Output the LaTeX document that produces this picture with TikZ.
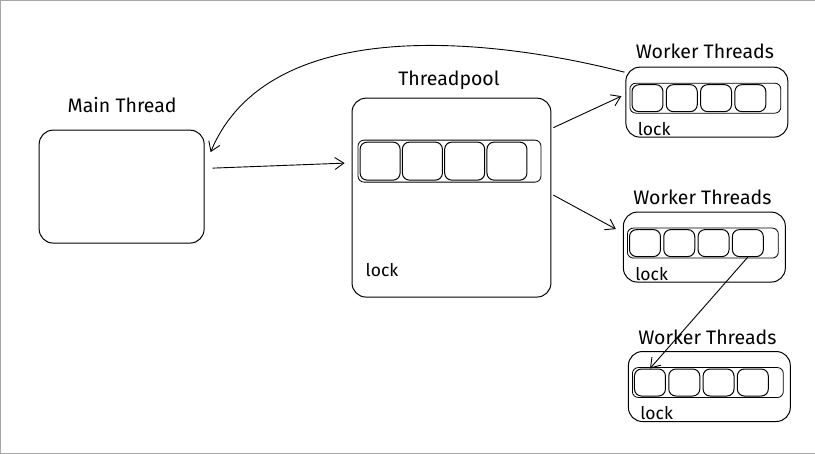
\documentclass[tikz,border=0pt]{standalone}
\usepackage{fontspec}
\setmainfont{Fira Sans}
\usetikzlibrary{arrows.meta}

\begin{document}
\begin{tikzpicture}[x=1pt,y=-1pt,
        box/.style={draw,line width=1pt,rounded corners=14pt,inner sep=0pt},
        bar/.style={draw,line width=0.8pt,rounded corners=6pt,inner sep=0pt},
        cell/.style={draw,line width=1pt,rounded corners=7pt,inner sep=0pt,anchor=west},
        title/.style={font=\fontsize{19.5}{22}\selectfont},
        locktext/.style={font=\fontsize{17.5}{20}\selectfont},
        conn/.style={line width=0.9pt,-{Straight Barb[length=9pt,width=12pt]}}
    ]
    % frame
    \draw[gray!70,fill=white] (0,0) rectangle (815,453);
    \useasboundingbox (0,0) rectangle (815,453);

    \node[box,minimum width=165,minimum height=113] (main) at (121.5,186.5) {};
    \node[title] (maintitle) at (122,105) {Main Thread};

    \node[box,minimum width=199,minimum height=199] (pool) at (451.5,197.5) {};
    \node[title] (pooltitle) at (449,80) {Threadpool};
    \node[bar,minimum width=183,minimum height=42] (poolbar) at (449.5,161) {};
    \foreach \i in {1,...,4}
        \node[cell,minimum width=40,minimum height=38] (pool\i)
            at ([xshift={2+(\i-1)*42.3}]poolbar.west) {};
    \node[locktext] (poollock) at (382,270) {lock};

    % worker threads
    \foreach \w/\cx/\cy/\ty in {1/707/102/51, 2/704.5/247/197, 3/709.5/386.5/337} {
        \node[box,minimum width=162,minimum height=70] (w\w) at (\cx,\cy) {};
        \node[title] (w\w title) at (\cx-2,\ty) {Worker Threads};
        \node[bar,minimum width=151,minimum height=30] (w\w bar)
            at ([xshift=-1.5,yshift=1]\cx,\cy-3) {};
        \foreach \i in {1,...,4}
            \node[cell,minimum width=31,minimum height=27] (w\w c\i)
                at ([xshift={2+(\i-1)*34.3}]w\w bar.west) {};
        \node[locktext,anchor=west] (w\w lock) at ([xshift=9,yshift=-1]w\w.south west |- \cx,\cy+26) {lock};
    }

    % connectors
    \draw[conn] ([xshift=8pt,yshift=18.5pt]main.east) -- ([xshift=-13pt,yshift=-2pt]poolbar.west);
    \draw[conn] ([xshift=2pt,yshift=70pt]pool.east) -- ([xshift=-4pt,yshift=6pt]w1.west);
    \draw[conn] ([xshift=2pt,yshift=2.5pt]pool.east) -- ([xshift=-7pt,yshift=18pt]w2.west);
    \draw[conn] (w2c4.south) -- (w3c1.north);
    \draw[conn] ([xshift=-1pt,yshift=30pt]w1.west)
        .. controls (500,40) and (270,10) .. ([xshift=6pt,yshift=34.5pt]main.east);
\end{tikzpicture}
\end{document}
